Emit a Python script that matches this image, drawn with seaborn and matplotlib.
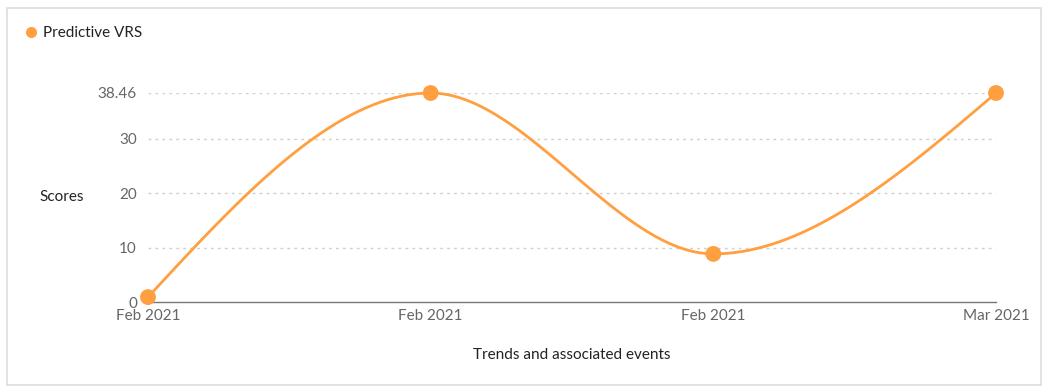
import numpy as np
import pandas as pd
import matplotlib
matplotlib.use("Agg")
import matplotlib.pyplot as plt
import seaborn as sns
from matplotlib.patches import Rectangle
from matplotlib.lines import Line2D

# data
labels = ["Feb 2021", "Feb 2021", "Feb 2021", "Mar 2021"]
scores = [0.9, 38.46, 8.85, 38.46]
yticks = [0, 10, 20, 30, 38.46]
series_name = "Predictive VRS"

orange = "#ff9f40"

sns.set_theme(style="white")
plt.rcParams["font.family"] = ["Lato", "DejaVu Sans"]


def monotone_x(x, y, n=40):
    # same idea as d3.curveMonotoneX: cubic segments with limited slopes
    x = np.asarray(x, float)
    y = np.asarray(y, float)
    h = np.diff(x)
    s = np.diff(y) / h
    t = np.zeros(len(x))
    for i in range(1, len(x) - 1):
        p = (s[i - 1] * h[i] + s[i] * h[i - 1]) / (h[i - 1] + h[i])
        t[i] = (np.sign(s[i - 1]) + np.sign(s[i])) * min(abs(s[i - 1]), abs(s[i]), 0.5 * abs(p))
    t[0] = (3 * s[0] - t[1]) / 2
    t[-1] = (3 * s[-1] - t[-2]) / 2
    xs, ys = [], []
    for i in range(len(x) - 1):
        u = np.linspace(0, 1, n)
        dx = h[i] / 3
        p0 = np.array([x[i], y[i]])
        p1 = np.array([x[i] + dx, y[i] + dx * t[i]])
        p2 = np.array([x[i + 1] - dx, y[i + 1] - dx * t[i + 1]])
        p3 = np.array([x[i + 1], y[i + 1]])
        b = ((1 - u) ** 3)[:, None] * p0 + (3 * (1 - u) ** 2 * u)[:, None] * p1 \
            + (3 * (1 - u) * u ** 2)[:, None] * p2 + (u ** 3)[:, None] * p3
        xs.extend(b[:, 0])
        ys.extend(b[:, 1])
    return np.array(xs), np.array(ys)


df = pd.DataFrame({"pos": np.arange(len(scores)), "score": scores})
cx, cy = monotone_x(df["pos"], df["score"])
curve = pd.DataFrame({"pos": cx, "score": cy})

fig = plt.figure(figsize=(10.49, 3.92), dpi=100)
W, H = 1049, 392
ax = fig.add_axes([148 / W, 1 - 302 / H, (996 - 148) / W, (302 - 93) / H])

# outer card border
fig.patches.append(Rectangle((7 / W, 7 / H), (1041 - 7) / W, (384 - 7) / H,
                             transform=fig.transFigure, fill=False,
                             edgecolor="#dddddd", linewidth=1.2))

for yv in yticks[1:]:
    ax.axhline(yv, color="#d0d0d0", linestyle=(0, (2, 3)), linewidth=1, zorder=0)

sns.lineplot(data=curve, x="pos", y="score", ax=ax, color=orange, linewidth=2,
             estimator=None, sort=False, clip_on=False)
sns.scatterplot(data=df, x="pos", y="score", ax=ax, color=orange, s=130,
                edgecolor="none", clip_on=False, zorder=5)

ax.set_xlim(0, len(scores) - 1)
ax.set_ylim(0, 38.46)
ax.set_xticks(df["pos"])
ax.set_xticklabels(labels)
ax.set_yticks(yticks)
ax.set_yticklabels(["0", "10", "20", "30", "38.46"])
ax.tick_params(axis="both", length=0, labelsize=11, labelcolor="#666666")
ax.tick_params(axis="x", pad=5)
ax.tick_params(axis="y", pad=8)

for side in ["top", "right", "left"]:
    ax.spines[side].set_visible(False)
ax.spines["bottom"].set_color("#777777")
ax.spines["bottom"].set_linewidth(1)
ax.set_facecolor("none")

ax.set_xlabel("")
ax.set_ylabel("")
fig.text(62 / W, 1 - 197 / H, "Scores", ha="center", va="center",
         fontsize=11, color="#222222")
fig.text(572 / W, 1 - 355 / H, "Trends and associated events", ha="center",
         va="center", fontsize=11, color="#222222")

handle = Line2D([], [], marker="o", linestyle="none", color=orange,
                markersize=8, markeredgewidth=0)
fig.legend([handle], [series_name], loc="center left",
           bbox_to_anchor=(8 / W, 1 - 33 / H), frameon=False,
           fontsize=11, handletextpad=0.2, handlelength=1.2,
           labelcolor="#222222")

fig.savefig("out.png", dpi=100)
